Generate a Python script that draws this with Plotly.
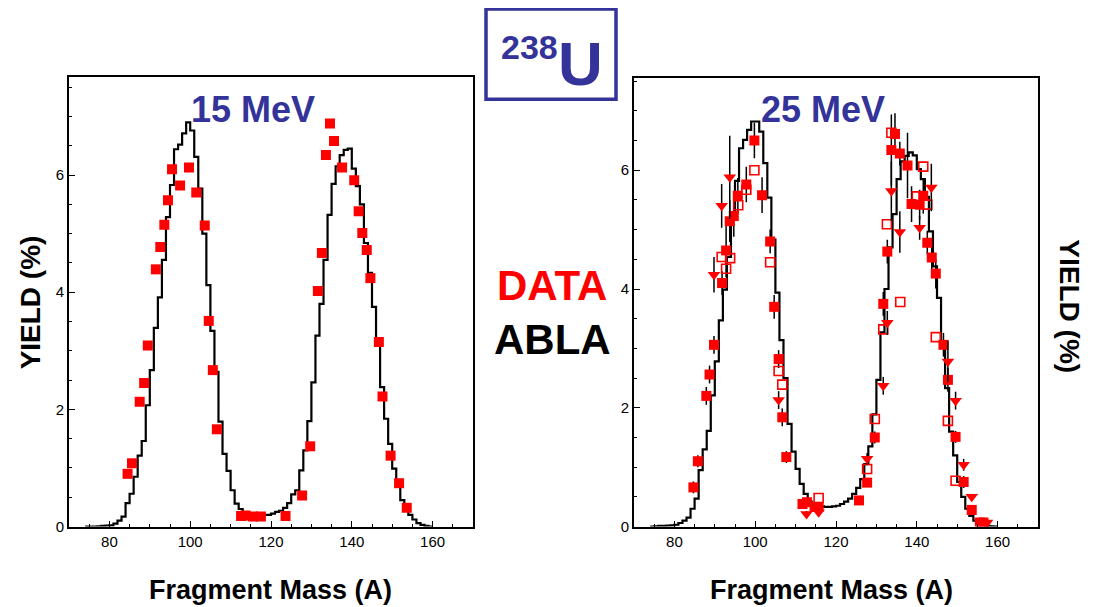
import plotly.graph_objects as go

# ---------------- data ----------------
abla_mass = list(range(74, 161))
abla_15 = [0, 0, 0, 0.005, 0.01, 0.015, 0.02, 0.05, 0.1, 0.17, 0.4, 0.56, 0.85, 1.21, 1.46, 2.07,
           2.67, 3.39, 3.91, 4.55, 5.28, 5.83, 6.44, 6.52, 6.71, 6.9, 6.76, 6.31, 5.77, 5.0, 4.12,
           3.34, 2.64, 1.79, 1.24, 0.95, 0.62, 0.39, 0.3, 0.24, 0.22, 0.2, 0.19, 0.19, 0.2, 0.2,
           0.22, 0.25, 0.27, 0.32, 0.4, 0.55, 0.62, 0.96, 1.3, 1.8, 2.46, 3.26, 3.8, 4.55, 5.32,
           5.85, 6.15, 6.34, 6.43, 6.45, 6.11, 5.81, 5.5, 4.84, 4.33, 3.75, 3.21, 2.38, 1.84, 1.41,
           0.99, 0.7, 0.45, 0.3, 0.2, 0.12, 0.06, 0.03, 0.01, 0, 0]
abla_25 = [0, 0.005, 0.01, 0.01, 0.015, 0.02, 0.03, 0.06, 0.1, 0.15, 0.3, 0.47, 0.95, 1.3, 1.61,
           2.21, 2.78, 3.47, 3.99, 4.54, 5.23, 5.82, 6.37, 6.51, 6.68, 6.82, 6.82, 6.65, 6.12, 5.54,
           4.83, 3.94, 3.14, 2.5, 1.73, 1.26, 0.97, 0.72, 0.55, 0.42, 0.38, 0.36, 0.34, 0.33, 0.33,
           0.34, 0.35, 0.38, 0.42, 0.47, 0.55, 0.65, 0.8, 1.05, 1.35, 1.89, 2.47, 3.27, 4.0, 4.7,
           5.26, 5.85, 6.15, 6.24, 6.3, 6.25, 6.02, 5.85, 5.55, 4.97, 4.38, 3.85, 3.05, 2.33, 1.6,
           1.2, 0.75, 0.5, 0.3, 0.18, 0.1, 0.05, 0.03, 0.01, 0.005, 0, 0]

data15_mass = [84.5, 85.6, 87.5, 88.6, 89.5, 91.5, 92.6, 93.6, 94.5, 95.5, 97.5, 99.7, 101.5,
               103.6, 104.6, 105.6, 106.6, 112.6, 113.7, 115.5, 117.5, 123.6, 127.7, 129.7,
               131.6, 132.6, 133.6, 134.6, 135.6, 137.6, 140.6, 141.7, 142.6, 143.7, 144.6,
               146.7, 147.6, 149.6, 151.7, 153.6]
data15_yield = [0.9, 1.08, 2.13, 2.45, 3.09, 4.39, 4.77, 5.15, 5.57, 6.1, 5.82, 6.13, 5.7, 5.14,
                3.51, 2.67, 1.66, 0.18, 0.19, 0.17, 0.17, 0.18, 0.53, 1.37, 4.02, 4.67, 6.34,
                6.88, 6.58, 6.13, 5.91, 5.38, 5.01, 4.72, 4.24, 3.15, 2.22, 1.21, 0.74, 0.32]

sq25_mass = [84.7, 85.8, 87.9, 88.7, 89.8, 91.8, 92.8, 93.7, 94.7, 95.7, 97.8, 99.8, 101.7, 103.7,
             104.7, 105.8, 106.7, 107.7, 111.7, 112.8, 114.7, 115.7, 125.7, 127.7, 129.6, 131.7,
             132.7, 133.7, 134.6, 135.8, 137.7, 138.7, 140.7, 141.6, 142.6, 143.7, 144.7, 146.6,
             147.7, 149.6, 151.6, 153.6, 155.6, 156.5]
sq25_yield = [0.66, 1.1, 2.2, 2.56, 3.06, 4.1, 4.65, 5.14, 5.23, 5.57, 5.76, 6.5, 5.58, 4.8, 3.7,
              2.82, 1.84, 1.17, 0.38, 0.41, 0.33, 0.33, 0.44, 0.74, 1.5, 3.75, 4.63, 6.34, 6.61,
              6.28, 6.08, 5.43, 5.42, 5.57, 4.78, 4.53, 4.26, 3.06, 2.47, 1.51, 0.75, 0.28, 0.07,
              0.07]
sq25_err = [0.1, 0.1, 0.15, 0.15, 0.15, 0.2, 0.45, 0.35, 0.35, 0.3, 0.3, 0.3, 0.3, 0.2, 0.2,
            0.15, 0.15, 0.1, 0.05, 0.05, 0.05, 0.05, 0.05, 0.05, 0.1, 0.2, 0.2, 0.6, 0.35, 0.2,
            0.55, 0.3, 0.25, 0.3, 0.2, 0.2, 0.25, 0.2, 0.2, 0.1, 0.1, 0.05, 0.03, 0.03]

open25_mass = [91.7, 92.8, 93.8, 95.8, 97.8, 99.8, 103.7, 105.8, 106.7, 115.7, 127.7, 129.6,
               131.7, 132.6, 133.7, 135.9, 140.0, 141.6, 142.6, 144.7, 147.7, 149.6]
open25_yield = [4.54, 4.34, 4.52, 5.41, 5.67, 6.0, 4.45, 2.62, 2.39, 0.48, 0.97, 1.81, 3.32,
                5.09, 6.63, 3.78, 5.56, 6.06, 5.42, 3.19, 1.78, 0.77]

tri25_mass = [89.8, 91.7, 93.7, 105.8, 112.7, 115.7, 127.7, 131.7, 132.7, 133.7, 135.8, 140.7,
              143.6, 147.7, 149.6, 151.6, 153.6, 157.4]
tri25_yield = [4.24, 5.4, 5.88, 2.13, 0.21, 0.24, 1.14, 2.37, 3.43, 5.65, 4.96, 5.03, 5.71,
               2.78, 2.12, 1.04, 0.5, 0.07]
tri25_err = [0.3, 0.37, 0.7, 0.15, 0.05, 0.05, 0.1, 0.15, 0.2, 0.5, 0.35, 0.2, 0.4, 0.35, 0.15,
             0.1, 0.05, 0.03]

x_ticks = [80, 100, 120, 140, 160]
y_ticks = [0, 2, 4, 6]

# ---------------- styling ----------------
OFF = 8          # default page body margin
SY = 0.986       # observed vertical scale of the snapshot
W, H = 1093 - OFF, 608
RED = "#ff0000"
BLUE = "#333399"
FONT = "Liberation Sans, Arial, sans-serif"


def px_x(p):
    return (p - OFF) / W


def px_y(p):
    return 1 - (p / SY - OFF) / H


fig = go.Figure()

# left panel
fig.add_trace(go.Scatter(x=abla_mass, y=abla_15, mode="lines", line_shape="hv",
                         line=dict(color="black", width=2.2), xaxis="x", yaxis="y",
                         showlegend=False, hoverinfo="skip"))
fig.add_trace(go.Scatter(x=data15_mass, y=data15_yield, mode="markers",
                         marker=dict(symbol="square", size=10, color=RED),
                         xaxis="x", yaxis="y", showlegend=False))

# right panel
fig.add_trace(go.Scatter(x=abla_mass, y=abla_25, mode="lines", line_shape="hv",
                         line=dict(color="black", width=2.2), xaxis="x2", yaxis="y2",
                         showlegend=False, hoverinfo="skip"))
fig.add_trace(go.Scatter(x=sq25_mass, y=sq25_yield, mode="markers",
                         marker=dict(symbol="square", size=10, color=RED),
                         error_y=dict(type="data", array=sq25_err, color="black",
                                      thickness=1.5, width=0),
                         xaxis="x2", yaxis="y2", showlegend=False))
fig.add_trace(go.Scatter(x=open25_mass, y=open25_yield, mode="markers",
                         marker=dict(symbol="square-open", size=9, color=RED,
                                     line=dict(width=1.6, color=RED)),
                         xaxis="x2", yaxis="y2", showlegend=False))
fig.add_trace(go.Scatter(x=tri25_mass, y=tri25_yield, mode="markers",
                         marker=dict(symbol="triangle-down", size=11, color=RED),
                         error_y=dict(type="data", array=tri25_err, color="black",
                                      thickness=1.5, width=0),
                         xaxis="x2", yaxis="y2", showlegend=False))

common_x = dict(range=[70, 170], tickvals=x_ticks, ticks="inside", ticklen=6, tickwidth=1,
                tickcolor="black", showline=True, linecolor="black", linewidth=2,
                mirror=True, showgrid=False, zeroline=False,
                tickfont=dict(family=FONT, size=15, color="black"),
                minor=dict(dtick=5, tick0=0, ticks="inside", ticklen=3, tickcolor="black"))
common_y = dict(tickvals=y_ticks, ticks="inside", ticklen=6, tickwidth=1, tickcolor="black",
                showline=True, linecolor="black", linewidth=2, mirror=True, showgrid=False,
                zeroline=False, tickfont=dict(family=FONT, size=15, color="black"),
                minor=dict(dtick=0.5, tick0=0, ticks="inside", ticklen=3, tickcolor="black"))

fig.update_layout(
    width=W, height=H,
    margin=dict(l=0, r=0, t=0, b=0),
    paper_bgcolor="white", plot_bgcolor="white",
    xaxis=dict(domain=[px_x(69), px_x(473)], anchor="y", **common_x),
    yaxis=dict(domain=[px_y(526), px_y(77)], anchor="x", range=[0, 7.67], **common_y),
    xaxis2=dict(domain=[px_x(634), px_x(1038)], anchor="y2", **common_x),
    yaxis2=dict(domain=[px_y(526), px_y(78)], anchor="x2", range=[0, 7.55], **common_y),
)

annots = [
    dict(text="<b>YIELD (%)</b>", x=px_x(30), y=px_y(302), textangle=-90,
         font=dict(size=28, color="black")),
    dict(text="<b>YIELD (%)</b>", x=px_x(1070), y=px_y(306), textangle=90,
         font=dict(size=28, color="black")),
    dict(text="<b>Fragment Mass (A)</b>", x=px_x(270), y=px_y(589),
         font=dict(size=27, color="black")),
    dict(text="<b>Fragment Mass (A)</b>", x=px_x(831), y=px_y(589),
         font=dict(size=27, color="black")),
    dict(text="<b>15 MeV</b>", x=px_x(253), y=px_y(109), font=dict(size=36, color=BLUE)),
    dict(text="<b>25 MeV</b>", x=px_x(823), y=px_y(109), font=dict(size=36, color=BLUE)),
    dict(text="<b>DATA</b>", x=px_x(552), y=px_y(285), font=dict(size=42, color=RED)),
    dict(text="<b>ABLA</b>", x=px_x(552), y=px_y(339), font=dict(size=42, color="black")),
    dict(text="<b>238</b>", x=px_x(529), y=px_y(47), font=dict(size=34, color=BLUE)),
    dict(text="<b>U</b>", x=px_x(580), y=px_y(63), font=dict(size=62, color=BLUE)),
]
for a in annots:
    a.update(xref="paper", yref="paper", showarrow=False, xanchor="center", yanchor="middle")
    a["font"]["family"] = FONT
    fig.add_annotation(**a)

fig.add_shape(type="rect", xref="paper", yref="paper",
              x0=px_x(486), x1=px_x(616), y0=px_y(99), y1=px_y(9),
              line=dict(color=BLUE, width=3.5), fillcolor="rgba(0,0,0,0)")

fig.write_html("out.html")
